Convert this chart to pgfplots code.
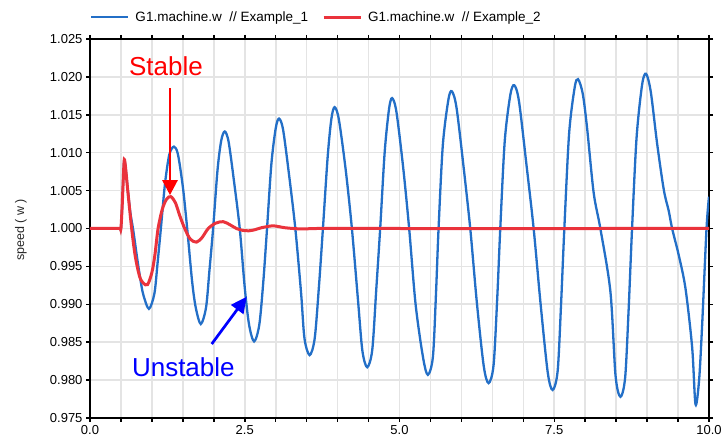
\documentclass[border=0pt]{standalone}
\usepackage{fontspec}
\setmainfont{Liberation Sans}
\usepackage{pgfplots}
\pgfplotsset{compat=1.18}
\usetikzlibrary{arrows.meta}
\definecolor{lblue}{RGB}{35,111,199}
\definecolor{lred}{RGB}{234,51,60}
\definecolor{gridgray}{RGB}{228,228,228}
\begin{document}
\begin{tikzpicture}
\path[use as bounding box] (0,0) rectangle (724pt,438pt);
\begin{axis}[
  at={(90pt,20pt)}, anchor=south west,
  scale only axis, width=619pt, height=379pt,
  xmin=0, xmax=10, ymin=0.975, ymax=1.025,
  xtick={0,2.5,5,7.5,10},
  minor xtick={0.5,1,...,9.5},
  ytick={0.975,0.98,0.985,0.99,0.995,1,1.005,1.01,1.015,1.02,1.025},
  grid=both,
  major grid style={gridgray, line width=1.6pt},
  minor grid style={gridgray, line width=1.6pt},
  tick align=outside,
  major tick length=4pt, minor tick length=4pt,
  tick style={black, line width=1.5pt},
  axis line style={black, line width=2pt},
  x tick label style={/pgf/number format/.cd, fixed, fixed zerofill, precision=1},
  y tick label style={/pgf/number format/.cd, fixed, fixed zerofill, precision=3},
  scaled y ticks=false, scaled x ticks=false,
  /pgf/number format/assume math mode=true,
  tick label style={font=\fontsize{13}{15}\selectfont},
  ylabel={\fontsize{12.5}{14}\selectfont speed ( w )},
  ylabel style={at={(axis description cs:-0.1115,0.496)}, anchor=center, text=black!85},
  legend style={at={(axis description cs:0.0,1.058)}, anchor=west, draw=none, fill=none, inner sep=0pt, font=\fontsize{13.5}{15}\selectfont, legend columns=2, /tikz/every even column/.append style={column sep=12pt}},
  legend cell align=left,
  legend image code/.code={\draw[#1] (2pt,0pt) -- (39pt,0pt); \path (43pt,0pt);},
  clip=true,
]
\addplot[lblue, line width=2.3pt, smooth, tension=0.5] coordinates {
(0,1.0000) (0.45,1.0000) (0.49,1.0000) (0.5,1.0000) (0.52,1.0030) (0.54,1.0070) (0.554,1.0091)
(0.575,1.0080) (0.61,1.0052) (0.65,1.0022) (0.70,0.9997) (0.76,0.9962) (0.81,0.9935) (0.86,0.9913)
(0.952,0.9894) (1.04,0.9914) (1.09,0.9953) (1.145,1.0000) (1.21,1.0058) (1.28,1.0097)
(1.355,1.0108) (1.42,1.0098) (1.50,1.0055) (1.57,1.0000) (1.65,0.9930) (1.71,0.9895)
(1.79,0.9874) (1.875,0.9896) (1.93,0.9945) (1.989,1.0000) (2.06,1.0077) (2.12,1.0116)
(2.177,1.0128) (2.24,1.0114) (2.33,1.0060) (2.419,1.0000) (2.50,0.9922) (2.57,0.9873)
(2.651,0.9851) (2.735,0.9873) (2.80,0.9930) (2.86,1.0000) (2.93,1.0085) (3.00,1.0132)
(3.054,1.0145) (3.12,1.0130) (3.22,1.0068) (3.317,1.0000) (3.41,0.9915) (3.465,0.9855)
(3.548,0.9833) (3.63,0.9855) (3.70,0.9925) (3.763,1.0000) (3.84,1.0095) (3.90,1.0145)
(3.952,1.0160) (4.02,1.0144) (4.13,1.0078) (4.231,1.0000) (4.33,0.9905) (4.40,0.9839)
(4.478,0.9817) (4.56,0.9840) (4.625,0.9920) (4.688,1.0000) (4.76,1.0100) (4.83,1.0157)
(4.88,1.0172) (4.95,1.0154) (5.06,1.0080) (5.156,1.0000) (5.26,0.9900) (5.38,0.9830)
(5.458,0.9807) (5.54,0.9831) (5.59,0.9915) (5.631,1.0000) (5.70,1.0110) (5.79,1.0170)
(5.846,1.0181) (5.92,1.0160) (6.03,1.0085) (6.143,1.0000) (6.25,0.9902) (6.36,0.9819)
(6.439,0.9796) (6.52,0.9820) (6.58,0.9910) (6.628,1.0000) (6.70,1.0115) (6.79,1.0176)
(6.854,1.0189) (6.93,1.0168) (7.05,1.0085) (7.167,1.0000) (7.28,0.9900) (7.395,0.9810)
(7.474,0.9787) (7.555,0.9812) (7.61,0.9900) (7.663,1.0000) (7.74,1.0125) (7.83,1.0186)
(7.884,1.0197) (7.96,1.0178) (8.03,1.0133) (8.137,1.0047) (8.245,1.0000) (8.407,0.9917)
(8.49,0.9806) (8.569,0.9778) (8.645,0.9803) (8.70,0.9890) (8.757,1.0000) (8.83,1.0120)
(8.92,1.0190) (8.984,1.0204) (9.06,1.0180) (9.162,1.0112) (9.27,1.0051) (9.35,1.0023)
(9.404,1.0000) (9.512,0.99645) (9.62,0.9921) (9.728,0.9843) (9.782,0.9768) (9.84,0.9800)
(9.89,0.9874) (9.96,1.0000) (10.0,1.0042)
};
\addplot[lred, line width=3pt, smooth, tension=0.5] coordinates {
(0,1.0) (0.45,1.0) (0.49,1.0) (0.5,1.0) (0.52,1.0030) (0.54,1.0070) (0.554,1.0091)
(0.575,1.0080) (0.61,1.0050) (0.673,1.0000) (0.73,0.9964) (0.80,0.9937) (0.86,0.9928)
(0.93,0.9926) (1.00,0.9942) (1.05,0.9966) (1.10,1.0000) (1.17,1.0026) (1.24,1.0039)
(1.306,1.0042) (1.38,1.0034) (1.45,1.0017) (1.53,1.0000) (1.62,0.9986) (1.72,0.9982)
(1.81,0.9988) (1.91,1.0000) (2.03,1.0007) (2.151,1.0009) (2.26,1.0005) (2.366,1.0000)
(2.47,0.99975) (2.57,0.99970) (2.67,0.99985) (2.77,1.0001) (2.957,1.00035) (3.15,1.0001)
(3.4,0.99995) (3.8,1.00002) (4.5,1.0) (10,1.0)
};
\legend{G1.machine.w\ \ // Example\_1, G1.machine.w\ \ // Example\_2}
\node[text=red, font=\fontsize{26}{30}\selectfont] at (axis cs:1.228,1.0214) {Stable};
\draw[red, line width=2.7pt, -{Triangle[length=15pt,width=15pt]}] (axis cs:1.292,1.0185) -- (axis cs:1.292,1.0044);
\node[text=blue, font=\fontsize{26}{30}\selectfont] at (axis cs:1.508,0.9817) {Unstable};
\draw[blue, line width=2.7pt, -{Triangle[length=16pt,width=15pt]}] (axis cs:1.966,0.98476) -- (axis cs:2.531,0.9910);
\end{axis}
\end{tikzpicture}
\end{document}
